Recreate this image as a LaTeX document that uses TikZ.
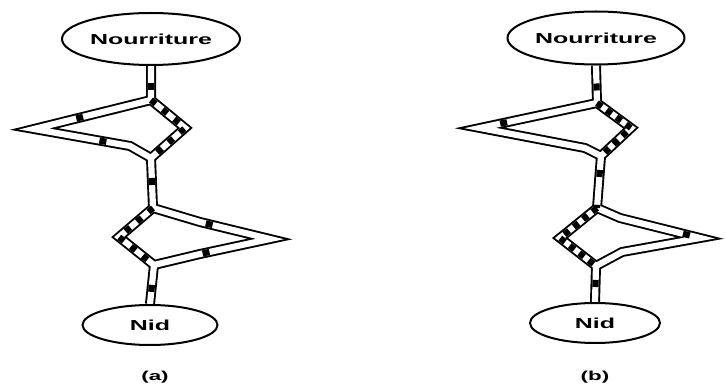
\documentclass[tikz,border=0pt]{standalone}
\usepackage{fontspec}
\setmainfont{Liberation Sans}
\usetikzlibrary{shapes.geometric,backgrounds}
\newcommand{\etire}[1]{\scalebox{1.72}[1]{#1}}

\begin{document}
\begin{tikzpicture}[x=1pt, y=-1pt,
        lieu/.style={ellipse, draw, line width=2pt, fill=white, inner sep=0pt, font=\bfseries\fontsize{14.5}{14.5}\selectfont},
        tube/.style={draw=black, line width=10pt, line join=miter, postaction={draw=white, line width=6.2pt}},
        fourmis/.style={draw=black, line width=6.2pt, line join=miter, dash pattern=#1},
        legende/.style={font=\bfseries\fontsize{13}{13}\selectfont}
    ]
    \useasboundingbox (0,0) rectangle (726,385);

    % Nodes
    \node[lieu, minimum width=178pt, minimum height=52pt] (foodA) at (151,39) {\etire{Nourriture}};
    \node[lieu, minimum width=135pt, minimum height=40pt] (nidA) at (150,325) {\etire{Nid}};
    \node[lieu, minimum width=177pt, minimum height=53pt] (foodB) at (596,38) {\etire{Nourriture}};
    \node[lieu, minimum width=130pt, minimum height=40pt] (nidB) at (595,323) {\etire{Nid}};
    \node[legende] (capA) at (155,377) {\etire{(a)}};
    \node[legende] (capB) at (595,377) {\etire{(b)}};

    % Junctions and bends (a)
    \coordinate (a1) at (151,100);
    \coordinate (a1L) at (34,129);
    \coordinate (a1Lb) at (130,146);
    \coordinate (a1R) at (185,128);
    \coordinate (b1) at (151,158);
    \coordinate (a2) at (153,208);
    \coordinate (a2L) at (119,237);
    \coordinate (a2Rt) at (200,222);
    \coordinate (a2R) at (270,239);
    \coordinate (a2Rb) at (200,254);
    \coordinate (b2) at (154,265);

    % Junctions and bends (b)
    \coordinate (c1) at (597,103);
    \coordinate (c1L) at (480,128);
    \coordinate (c1Lb) at (585,148);
    \coordinate (c1R) at (631,128);
    \coordinate (d1) at (601,156);
    \coordinate (c2) at (597,208);
    \coordinate (c2L) at (560,238);
    \coordinate (c2Rt) at (620,218);
    \coordinate (c2R) at (700,238);
    \coordinate (c2Rb) at (622,252);
    \coordinate (d2) at (596,266);

    \begin{scope}[on background layer]
        % Tubes
        \draw[tube] (foodA.south) -- (a1)
            (a1) -- (a1L) -- (a1Lb) -- (b1) -- (a1R) -- cycle
            (b1) -- (a2)
            (a2) -- (a2L) -- (b2) -- (a2Rb) -- (a2R) -- (a2Rt) -- cycle
            (b2) -- (nidA.north)
            (foodB.south) -- (c1)
            (c1) -- (c1L) -- (c1Lb) -- (d1) -- (c1R) -- cycle
            (d1) -- (c2)
            (c2) -- (c2L) -- (d2) -- (c2Rb) -- (c2R) -- (c2Rt) -- cycle
            (d2) -- (nidB.north);

        % Ants (a)
        \draw[fourmis={on 0pt off 17pt on 7pt off 40pt}] (foodA.south) -- (a1);
        \draw[fourmis={on 6pt off 9pt}] (a1) -- (a1R) -- (b1);
        \draw[fourmis={on 0pt off 70pt on 7pt off 110pt on 7pt off 200pt}] (a1) -- (a1L) -- (a1Lb) -- (b1);
        \draw[fourmis={on 0pt off 20pt on 7pt off 18pt}] (b1) -- (a2);
        \draw[fourmis={on 6pt off 9pt}] (a2) -- (a2L) -- (b2);
        \draw[fourmis={on 0pt off 55pt on 7pt off 121pt on 7pt off 200pt}] (a2) -- (a2Rt) -- (a2R) -- (a2Rb) -- (b2);
        \draw[fourmis={on 0pt off 20pt on 7pt off 40pt}] (b2) -- (nidA.north);

        % Ants (b)
        \draw[fourmis={on 0pt off 18pt on 7pt off 40pt}] (foodB.south) -- (c1);
        \draw[fourmis={on 6pt off 6pt}] (c1) -- (c1R) -- (d1);
        \draw[fourmis={on 0pt off 92pt on 7pt off 300pt}] (c1) -- (c1L) -- (c1Lb) -- (d1);
        \draw[fourmis={on 0pt off 14pt on 7pt off 14pt}] (d1) -- (c2);
        \draw[fourmis={on 6pt off 6pt}] (c2) -- (c2L) -- (d2);
        \draw[fourmis={on 0pt off 90pt on 7pt off 300pt}] (c2) -- (c2Rt) -- (c2R) -- (c2Rb) -- (d2);
        \draw[fourmis={on 0pt off 14pt on 7pt off 40pt}] (d2) -- (nidB.north);
    \end{scope}
\end{tikzpicture}
\end{document}
